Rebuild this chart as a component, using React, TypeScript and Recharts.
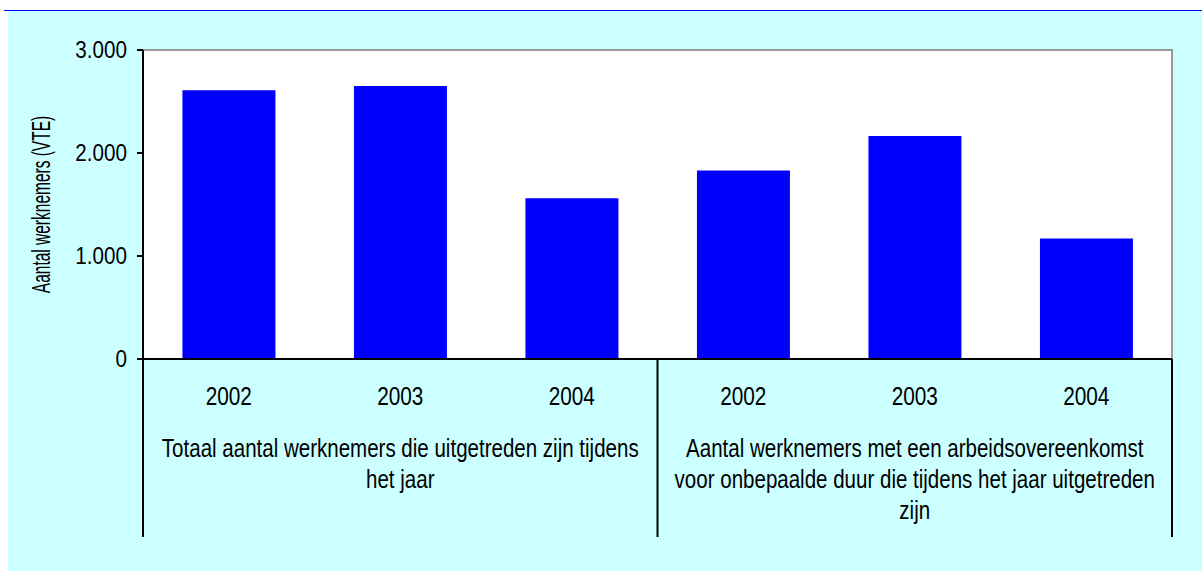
import { BarChart, Bar, XAxis, YAxis, ReferenceArea } from 'recharts';

const years = ['2002', '2003', '2004', '2002', '2003', '2004'];
const werknemers = [2610, 2650, 1560, 1830, 2165, 1170];
const groupLabels = [
  ['Totaal aantal werknemers die uitgetreden zijn tijdens', 'het jaar'],
  ['Aantal werknemers met een arbeidsovereenkomst', 'voor onbepaalde duur die tijdens het jaar uitgetreden', 'zijn'],
];
const yTicks = [0, 1000, 2000, 3000];

const data = years.map((year, i) => ({ key: `${i}`, year, value: werknemers[i] }));

const FONT = 'Arial, "Liberation Sans", sans-serif';
const fmt = (v: number) => String(v).replace(/\B(?=(\d{3})+(?!\d))/g, '.');

function YTick(props: any) {
  const { x, y, payload } = props;
  return (
    <text
      transform={`translate(${x},${y + 8}) scale(0.86,1)`}
      textAnchor="end"
      fontFamily={FONT}
      fontSize={24}
      fill="#000"
    >
      {fmt(payload.value)}
    </text>
  );
}

function XTick(props: any) {
  const { x, y, payload, index } = props;
  const half = payload.offset ?? 85.75;
  const sep = (sx: number) => (
    <line x1={sx} x2={sx} y1={y} y2={y + 178} stroke="#000" strokeWidth={2} />
  );
  const grp = Math.floor(index / 3);
  return (
    <g>
      {index % 3 === 0 && sep(x - half)}
      {index === years.length - 1 && sep(x + half)}
      <text
        transform={`translate(${x},${y + 46}) scale(0.8,1)`}
        textAnchor="middle"
        fontFamily={FONT}
        fontSize={26}
        fill="#000"
      >
        {years[index]}
      </text>
      {index % 3 === 1 &&
        groupLabels[grp].map((line, j) => (
          <text
            key={j}
            transform={`translate(${x},${y + 98 + j * 31}) scale(0.79,1)`}
            textAnchor="middle"
            fontFamily={FONT}
            fontSize={26}
            fill="#000"
          >
            {line}
          </text>
        ))}
    </g>
  );
}

function YLabel(props: any) {
  const { viewBox } = props;
  const cy = viewBox.y + viewBox.height / 2;
  return (
    <text
      transform={`translate(42,${cy}) rotate(-90) scale(0.62,1)`}
      textAnchor="middle"
      fontFamily={FONT}
      fontSize={25}
      fill="#000"
    >
      Aantal werknemers (VTE)
    </text>
  );
}

export default function App() {
  return (
    <div style={{ position: 'fixed', left: 0, top: 0, width: 1202, height: 571, background: '#fff', overflow: 'hidden' }}>
      <div style={{ position: 'absolute', left: 4, top: 10, right: 0, height: 1, background: '#0000FF' }} />
      <div style={{ position: 'absolute', left: 8, top: 11, width: 1194, height: 560, background: '#CCFFFF' }}>
        <BarChart
          width={1194}
          height={560}
          data={data}
          margin={{ top: 39, right: 30, bottom: 0, left: 0 }}
          barCategoryGap="23%"
        >
          <ReferenceArea y1={0} y2={3000} fill="#fff" fillOpacity={1} stroke="#999" strokeWidth={2} ifOverflow="visible" />
          <XAxis
            dataKey="key"
            height={212}
            tickLine={false}
            tickSize={0}
            tickMargin={0}
            axisLine={{ stroke: '#000', strokeWidth: 2 }}
            tick={<XTick />}
            interval={0}
          />
          <YAxis
            width={135}
            domain={[0, 3000]}
            ticks={yTicks}
            tickSize={6}
            tickMargin={10}
            tickLine={{ stroke: '#000', strokeWidth: 2 }}
            axisLine={{ stroke: '#000', strokeWidth: 2 }}
            tick={<YTick />}
            label={<YLabel />}
          />
          <Bar dataKey="value" fill="#0000FF" isAnimationActive={false} />
        </BarChart>
      </div>
    </div>
  );
}
